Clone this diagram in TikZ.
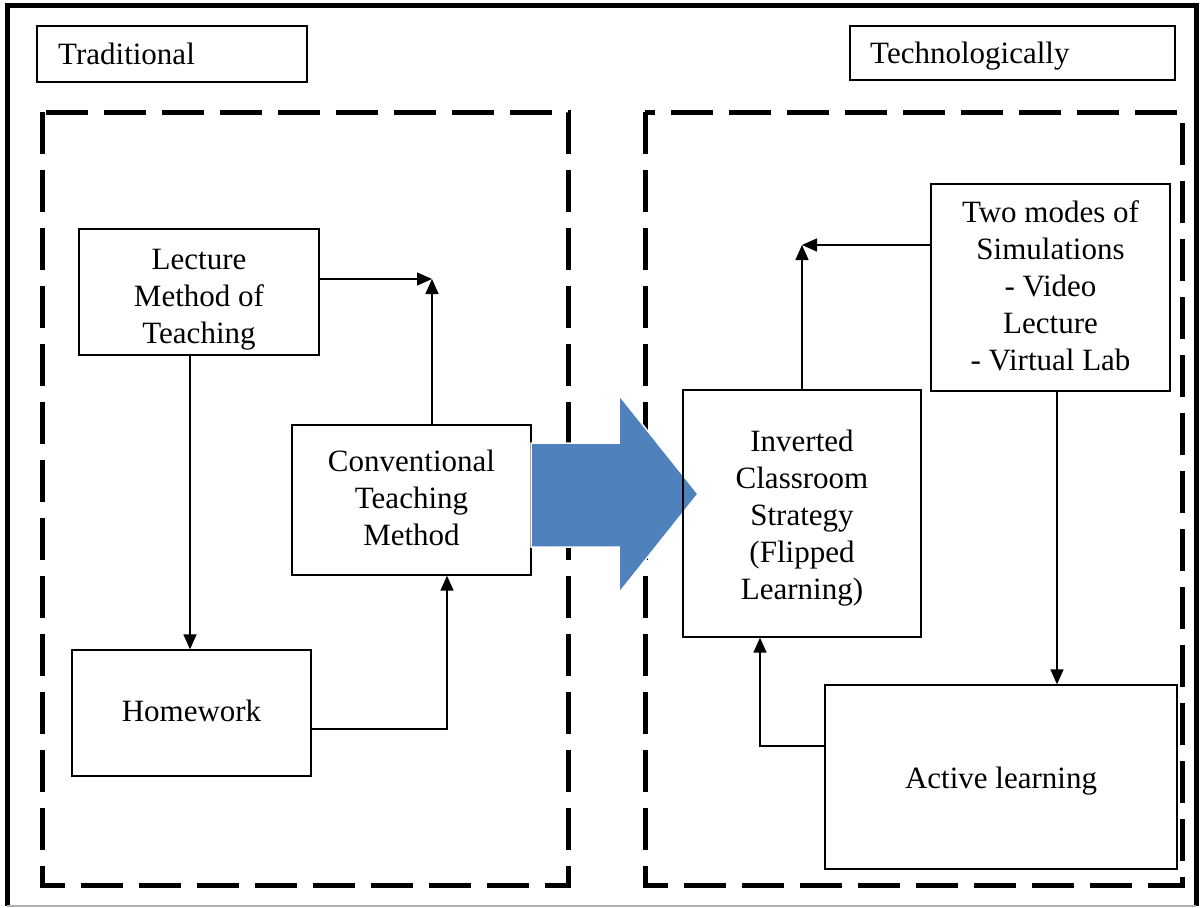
\documentclass[tikz,border=0pt]{standalone}
\usepackage{fontspec}
\setmainfont{Liberation Serif}
\usetikzlibrary{arrows.meta}
\definecolor{arrowblue}{HTML}{4F81BD}
\tikzset{
  box/.style={draw=black, line width=1.3pt, rectangle, inner sep=0pt, align=center,
              font=\fontsize{31}{37}\selectfont},
  label box/.style={draw=black, line width=1.3pt, rectangle, inner sep=0pt},
  title/.style={anchor=base west, inner sep=0pt, font=\fontsize{31}{37}\selectfont},
  group/.style={draw=black, line width=5pt, dash pattern=on 42pt off 16pt},
  link/.style={draw=black, line width=1.5pt, -{Triangle[length=15pt,width=13pt]}},
}
% box given by its corners; the last argument lowers the text inside it
\newcommand{\boxat}[7]{% name, x1, y1, x2, y2, text, text drop
  \node[box, minimum width={#4-#2}, minimum height={#5-#3}] (#1) at ({(#2+#4)/2},{(#3+#5)/2})
    {\raisebox{-#7pt}[\height][\depth]{\begin{tabular}{@{}c@{}}#6\end{tabular}}};}
\begin{document}
\begin{tikzpicture}[x=1pt,y=-1pt]
  \useasboundingbox (0,0) rectangle (1203,908);
  % outer frame
  \draw[line width=5pt] (7,906) -- (7,5) -- (1196,5) -- (1196,906);
  \draw[line width=1.2pt, black!30] (7,906) -- (1196,906);

  % group frames
  \draw[group] (42,112) rectangle (568,885);
  \draw[group] (645,112) rectangle (1182,885);

  % group titles
  \node[label box, minimum width=270pt, minimum height=56pt] (trad) at (172,54) {};
  \node[title] (tradtext) at (58,64) {Traditional};
  \node[label box, minimum width=325pt, minimum height=54pt] (tech) at (1012.5,53) {};
  \node[title] (techtext) at (870,63) {Technologically};

  % traditional side
  \boxat{lecture}{79}{229}{319}{355}{Lecture\\Method of\\Teaching}{7}
  \boxat{homework}{72}{650}{311}{776}{Homework}{1}
  \boxat{conv}{292}{425}{531}{575}{Conventional\\Teaching\\Method}{1}

  \coordinate (meet) at (432,279);
  \draw[link] (lecture.south -| 190,0) -- (homework.north -| 190,0);
  \draw[link] (homework.east |- 0,729) -- (447,729) -- (conv.south -| 447,0);
  \draw[link] (conv.north -| meet) -- (meet);
  \draw[link] (lecture.east |- meet) -- (meet);

  % block arrow between the two approaches
  \draw[fill=arrowblue, draw=white, line width=1.5pt]
    (531,443) -- (619,443) -- (619,395) -- (698,494) -- (619,593) -- (619,547) -- (531,547) -- cycle;

  % technological side
  \boxat{inverted}{683}{390}{921}{637}{Inverted\\Classroom\\Strategy\\(Flipped\\Learning)}{5}
  \boxat{modes}{931}{184}{1170}{391}{Two modes of\\Simulations\\- Video\\Lecture\\- Virtual Lab}{2}
  \boxat{active}{825}{685}{1177}{869}{Active learning}{4}

  \coordinate (meet2) at (802,245);
  \draw[link] (inverted.north -| meet2) -- (meet2);
  \draw[link] (modes.west |- meet2) -- (meet2);
  \draw[link] (modes.south -| 1057,0) -- (active.north -| 1057,0);
  \draw[link] (active.west |- 0,746) -- (760,746) -- (inverted.south -| 760,0);
\end{tikzpicture}
\end{document}
